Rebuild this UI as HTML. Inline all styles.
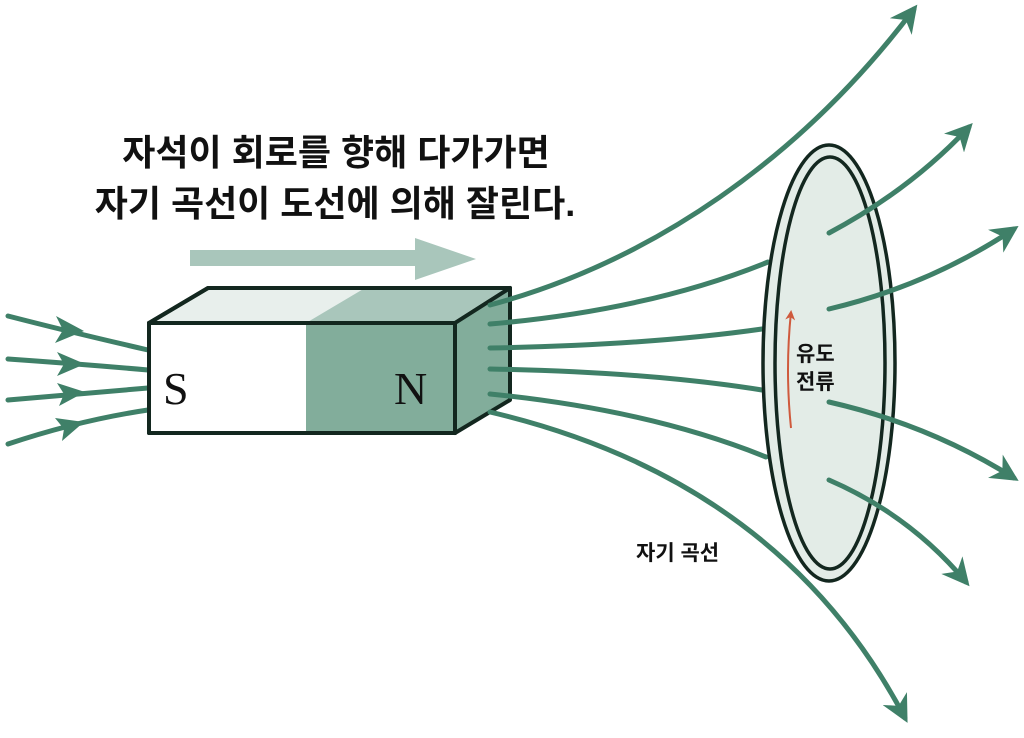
<!DOCTYPE html>
<html><head><meta charset="utf-8"><style>
html,body{margin:0;padding:0;background:#fff;}
svg{display:block;}
</style></head><body>
<svg width="1024" height="738" viewBox="0 0 1024 738" xmlns="http://www.w3.org/2000/svg">
<defs>
<marker id="ah" viewBox="0 0 10 10" refX="8" refY="5" markerWidth="5.5" markerHeight="5.5" orient="auto" markerUnits="strokeWidth">
<path d="M0,0 L10,5 L0,10 L3,5 Z" fill="#3f8068"/>
</marker>
<marker id="rh" viewBox="0 0 10 10" refX="8" refY="5" markerWidth="5" markerHeight="5" orient="auto" markerUnits="strokeWidth">
<path d="M0,0 L10,5 L0,10 L3,5 Z" fill="#cf5a3d"/>
</marker>
</defs>
<g font-family="'Liberation Sans','Noto Sans CJK KR',sans-serif" font-weight="bold" fill="#111" text-anchor="middle">
<text x="336" y="165" font-size="36">자석이 회로를 향해 다가가면</text>
<text x="335" y="216" font-size="36">자기 곡선이 도선에 의해 잘린다.</text>
</g>
<path d="M190,250 L415,250 L415,238 L476,259 L415,280 L415,266 L190,266 Z" fill="#a9c6bb"/>
<g stroke="#3f8068" stroke-width="5" fill="none" stroke-linecap="round">
<path d="M8,316 Q70,332 148,350"/>
<path d="M8,359 Q80,364 148,370"/>
<path d="M8,400 Q80,394 148,388"/>
<path d="M8,444 Q80,420 148,410"/>
</g>
<g fill="#3f8068">
<path d="M56,316 L84,331 L55,343 L63,330 Z"/>
<path d="M57,352 L85,364 L57,376 L64,364 Z"/>
<path d="M57,383 L85,392 L59,406 L64,394 Z"/>
<path d="M55,418 L84,422 L62,441 L64,429 Z"/>
</g>
<g stroke="#13271f" stroke-width="4" stroke-linejoin="round">
<path d="M149,323 L208,288 L510,288 L455,323 Z" fill="#e8efec"/>
<path d="M306,323 L365,288 L510,288 L455,323 Z" fill="#a9c6bb" stroke="none"/>
<path d="M149,323 L208,288 L510,288 L455,323 Z" fill="none"/>
<rect x="149" y="323" width="306" height="110" fill="#fff"/>
<rect x="306" y="325" width="147" height="106" fill="#82ad9b" stroke="none"/>
<rect x="149" y="323" width="306" height="110" fill="none"/>
<path d="M455,323 L510,288 L510,400 L455,433 Z" fill="#82ad9b"/>
</g>
<g font-family="'Liberation Serif',serif" font-size="46" fill="#111">
<text x="163" y="404">S</text>
<text x="394" y="404">N</text>
</g>
<g stroke="#3f8068" stroke-width="5" fill="none" stroke-linecap="round">
<path d="M490,305 C650,262 800,160 914,9" marker-end="url(#ah)"/>
<path d="M490,324 Q650,310 768,262"/>
<path d="M490,348 Q650,345 762,329"/>
<path d="M490,369 Q650,372 762,390"/>
<path d="M490,394 Q650,410 766,457"/>
<path d="M490,412 Q780,480 905,718" marker-end="url(#ah)"/>
</g>
<ellipse cx="829" cy="363" rx="66" ry="218" fill="#e3ece7" stroke="#13271f" stroke-width="3.5"/>
<ellipse cx="830" cy="363" rx="55" ry="206" fill="none" stroke="#13271f" stroke-width="3.5"/>
<g stroke="#3f8068" stroke-width="5" fill="none" stroke-linecap="round">
<path d="M829,233 Q910,190 969,127" marker-end="url(#ah)"/>
<path d="M829,309 Q930,285 1014,229" marker-end="url(#ah)"/>
<path d="M829,402 Q930,425 1014,478" marker-end="url(#ah)"/>
<path d="M829,480 Q910,515 966,582" marker-end="url(#ah)"/>
</g>
<path d="M791,428 Q785,370 791,312" stroke="#cf5a3d" stroke-width="2" fill="none" marker-end="url(#rh)"/>
<g font-family="'Liberation Sans','Noto Sans CJK KR',sans-serif" font-weight="bold" fill="#111">
<text x="796" y="361" font-size="21">유도</text>
<text x="796" y="389" font-size="21">전류</text>
<text x="636" y="560" font-size="21">자기 곡선</text>
</g>
</svg>
</body></html>
